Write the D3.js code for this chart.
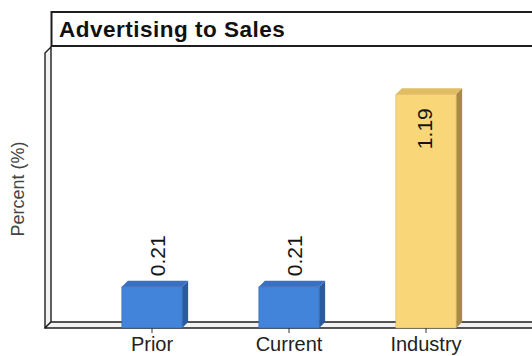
<!DOCTYPE html>
<html>
<head>
<meta charset="utf-8">
<script src="https://cdn.jsdelivr.net/npm/d3@7/dist/d3.min.js"></script>
<style>
  html, body { margin: 0; padding: 0; background: #fff; }
  svg { display: block; font-family: "Liberation Sans", Arial, Helvetica, sans-serif; }
</style>
</head>
<body>
<svg id="chart" width="532" height="356"></svg>
<script>
// Advertising-to-sales ratio, percent
const categories = ["Prior", "Current", "Industry"];
const values = [0.21, 0.21, 1.19];
const valueLabels = ["0.21", "0.21", "1.19"];
const yDomain = [0, 1.4];

const W = 532, H = 356;
const depth = 6;              // 3D offset of floor, walls and bars
const floorY = 328, topY = 53;
const wallLeft = 45;

const svg = d3.select("#chart");

const x = d3.scaleBand()
  .domain(categories)
  .range([83.5, 494.5])
  .paddingInner(0.56)
  .paddingOuter(0.28);

const y = d3.scaleLinear().domain(yDomain).range([floorY, topY]);

const fronts = ["#4184da", "#4184da", "#f9d678"];
const tops   = ["#3a70c0", "#3a70c0", "#e2bc63"];
const sides  = ["#2b5b9e", "#2b5b9e", "#a8894c"];
const edges  = ["#2f66b3", "#2f66b3", "#d5b25e"];

// Left side wall and floor of the 3D frame
const frame = svg.append("g");
frame.append("polygon")
  .attr("points", [[wallLeft, topY], [wallLeft + depth, topY - depth],
                   [wallLeft + depth, floorY - depth], [wallLeft, floorY]].join(" "))
  .attr("fill", "#f2f2f2").attr("stroke", "#1e1e1e").attr("stroke-width", 1.4)
  .attr("stroke-linejoin", "round");
frame.append("polygon")
  .attr("points", [[wallLeft, floorY], [wallLeft + depth, floorY - depth],
                   [W + 10, floorY - depth], [W + 10, floorY]].join(" "))
  .attr("fill", "#f2f2f2").attr("stroke", "#1e1e1e").attr("stroke-width", 1.4)
  .attr("stroke-linejoin", "round");

// Title box
svg.append("rect")
  .attr("x", 51.5).attr("y", 12).attr("width", W).attr("height", 34)
  .attr("fill", "#fff").attr("stroke", "#1e1e1e").attr("stroke-width", 2);
svg.append("text")
  .attr("x", 59).attr("y", 36.5)
  .attr("font-size", 22.5).attr("font-weight", "bold")
  .attr("letter-spacing", 0.5)
  .attr("fill", "#111")
  .text("Advertising to Sales");

// Bars
const bars = svg.append("g").selectAll("g")
  .data(categories.map((c, i) => ({ c, v: values[i], label: valueLabels[i], i })))
  .join("g");

bars.each(function (d) {
  const g = d3.select(this);
  const x0 = x(d.c), x1 = x0 + x.bandwidth();
  const yt = y(d.v), yb = y(0);
  g.append("polygon")
    .attr("points", [[x1, yt], [x1 + depth, yt - depth], [x1 + depth, yb - depth], [x1, yb]].join(" "))
    .attr("fill", sides[d.i]);
  g.append("polygon")
    .attr("points", [[x0, yt], [x0 + depth, yt - depth], [x1 + depth, yt - depth], [x1, yt]].join(" "))
    .attr("fill", tops[d.i]);
  g.append("rect")
    .attr("x", x0).attr("y", yt).attr("width", x1 - x0).attr("height", yb - yt)
    .attr("fill", fronts[d.i]).attr("stroke", edges[d.i]).attr("stroke-width", 0.6);
});

// Value labels, rotated; placed inside tall bars and above short ones
bars.append("text")
  .attr("font-size", 21)
  .attr("fill", "#151515")
  .attr("transform", d => {
    const cx = x(d.c) + x.bandwidth() / 2;
    const inside = y(0) - y(d.v) > 120;
    const ty = inside ? y(d.v) + 14 : y(d.v) - depth - 4.5;
    const tx = inside ? cx - 1.5 : cx + 5.5;
    return `translate(${tx},${ty}) rotate(-90)`;
  })
  .attr("text-anchor", d => (y(0) - y(d.v) > 120 ? "end" : "start"))
  .attr("dy", "0.36em")
  .text(d => d.label);

// Category axis
const xAxis = svg.append("g")
  .attr("transform", `translate(0,${floorY})`)
  .call(d3.axisBottom(x).tickSize(5).tickPadding(4));
xAxis.select(".domain").remove();
xAxis.selectAll(".tick line").attr("stroke", "#333");
xAxis.selectAll(".tick text")
  .attr("font-size", 20)
  .attr("font-family", "'Liberation Sans', Arial, sans-serif")
  .attr("fill", "#222");

// Y axis title
svg.append("text")
  .attr("transform", "translate(18,189) rotate(-90)")
  .attr("text-anchor", "middle")
  .attr("dy", "0.35em")
  .attr("font-size", 18)
  .attr("fill", "#444")
  .text("Percent (%)");
</script>
</body>
</html>
